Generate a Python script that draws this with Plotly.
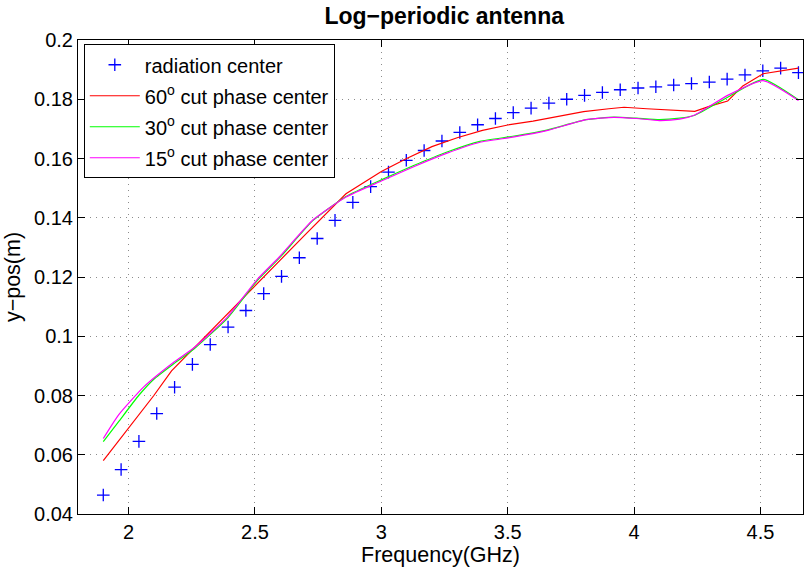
import plotly.graph_objects as go

# ---- data ----
rad_freq = [1.9000, 1.9705, 2.0410, 2.1115, 2.1821, 2.2526, 2.3231, 2.3936, 2.4641, 2.5346,
            2.6051, 2.6756, 2.7462, 2.8167, 2.8872, 2.9577, 3.0282, 3.0987, 3.1692, 3.2397,
            3.3103, 3.3808, 3.4513, 3.5218, 3.5923, 3.6628, 3.7333, 3.8038, 3.8744, 3.9449,
            4.0154, 4.0859, 4.1564, 4.2269, 4.2974, 4.3679, 4.4385, 4.5090, 4.5795, 4.6500]
rad_y = [0.0464, 0.0550, 0.0645, 0.0739, 0.0828, 0.0905, 0.0972, 0.1031, 0.1087, 0.1144,
         0.1202, 0.1265, 0.1330, 0.1391, 0.1452, 0.1505, 0.1554, 0.1594, 0.1627, 0.1659,
         0.1688, 0.1714, 0.1735, 0.1755, 0.1770, 0.1787, 0.1800, 0.1813, 0.1823, 0.1832,
         0.1838, 0.1842, 0.1848, 0.1853, 0.1858, 0.1868, 0.1882, 0.1896, 0.1905, 0.1890]

red_freq = [1.9, 2.0, 2.1, 2.17, 2.3, 2.4, 2.5, 2.6, 2.7, 2.86, 3.0, 3.1, 3.2, 3.3, 3.4,
            3.5, 3.6, 3.7, 3.8, 3.9, 3.96, 4.05, 4.18, 4.24, 4.3, 4.37, 4.43, 4.51, 4.65]
red_y = [0.0580, 0.0690, 0.0800, 0.0883, 0.0995, 0.1082, 0.1170, 0.1257, 0.1344, 0.1481,
         0.1556, 0.1600, 0.1640, 0.1670, 0.1695, 0.1713, 0.1726, 0.1741, 0.1758, 0.1768,
         0.1773, 0.1768, 0.1762, 0.1759, 0.1777, 0.1794, 0.1845, 0.1886, 0.1905]

green_freq = [1.9, 1.96, 2.04, 2.1, 2.18, 2.26, 2.39, 2.51, 2.6, 2.73, 2.86, 3.0, 3.13,
              3.26, 3.39, 3.52, 3.65, 3.81, 3.92, 4.01, 4.1, 4.18, 4.24, 4.37, 4.51, 4.65]
green_y = [0.0644, 0.0711, 0.0800, 0.0855, 0.0908, 0.0958, 0.1060, 0.1189, 0.1267, 0.1391,
           0.1472, 0.1528, 0.1577, 0.1622, 0.1658, 0.1675, 0.1695, 0.1731, 0.1740, 0.1736,
           0.1731, 0.1736, 0.1746, 0.1807, 0.1867, 0.1798]

magenta_freq = [1.9, 1.96, 2.06, 2.18, 2.26, 2.39, 2.51, 2.6, 2.73, 2.86, 3.0, 3.13,
                3.26, 3.39, 3.52, 3.65, 3.81, 3.92, 4.01, 4.1, 4.18, 4.24, 4.37, 4.51, 4.65]
magenta_y = [0.0655, 0.0734, 0.0829, 0.0913, 0.0962, 0.1064, 0.1193, 0.1271, 0.1393, 0.1470,
             0.1524, 0.1573, 0.1618, 0.1655, 0.1672, 0.1693, 0.1731, 0.1739, 0.1735, 0.1728,
             0.1733, 0.1747, 0.1813, 0.1863, 0.1796]

x_ticks = [2, 2.5, 3, 3.5, 4, 4.5]
x_ticktext = ["2", "2.5", "3", "3.5", "4", "4.5"]
y_ticks = [0.04, 0.06, 0.08, 0.10, 0.12, 0.14, 0.16, 0.18, 0.20]
y_ticktext = ["0.04", "0.06", "0.08", "0.1", "0.12", "0.14", "0.16", "0.18", "0.2"]

FONT = "Liberation Sans, Arial, Helvetica, sans-serif"

fig = go.Figure()
fig.add_trace(go.Scatter(
    x=rad_freq, y=rad_y, mode="markers", name="radiation center", legendgroup="a",
    marker=dict(symbol="cross-thin", size=9, color="#0000ff",
                line=dict(color="#0000ff", width=1.3))))
fig.add_trace(go.Scatter(
    x=red_freq, y=red_y, mode="lines", name="60<sup>o</sup> cut phase center", legendgroup="b",
    line=dict(color="#ff0000", width=1.2)))
fig.add_trace(go.Scatter(
    x=green_freq, y=green_y, mode="lines", name="30<sup>o</sup> cut phase center", legendgroup="c",
    line=dict(color="#00ff00", width=1.2, shape="spline", smoothing=0.5)))
fig.add_trace(go.Scatter(
    x=magenta_freq, y=magenta_y, mode="lines", name="15<sup>o</sup> cut phase center", legendgroup="d",
    line=dict(color="#ff00ff", width=1.2, shape="spline", smoothing=0.5)))

axis_common = dict(
    showline=True, linecolor="black", linewidth=1, mirror="ticks",
    ticks="inside", ticklen=7, tickcolor="black", tickwidth=1,
    showgrid=True, gridcolor="#8c8c8c", gridwidth=1, griddash="1px,5px",
    zeroline=False, tickfont=dict(family=FONT, size=20, color="black"),
)

fig.update_layout(
    width=804, height=568,
    margin=dict(l=78, r=1, t=40, b=54),
    paper_bgcolor="white", plot_bgcolor="white",
    font=dict(family=FONT, size=20, color="black"),
    title=dict(text="<b>Log\u2212periodic antenna</b>", x=0.5525, xanchor="center",
               y=0.972, yanchor="middle", font=dict(family=FONT, size=23, color="black")),
    xaxis=dict(range=[1.8, 4.668], tickvals=x_ticks, ticktext=x_ticktext,
               title=dict(text="Frequency(GHz)", standoff=2,
                          font=dict(family=FONT, size=21.5, color="black")),
               **axis_common),
    yaxis=dict(range=[0.04, 0.2], tickvals=y_ticks, ticktext=y_ticktext,
               title=dict(text="y\u2212pos(m)", standoff=7,
                          font=dict(family=FONT, size=21.5, color="black")),
               **axis_common),
    legend=dict(x=0.008, y=0.991, xanchor="left", yanchor="top",
                bgcolor="white", bordercolor="black", borderwidth=1,
                font=dict(family=FONT, size=20, color="black"),
                itemwidth=50, tracegroupgap=2, traceorder="grouped"),
    showlegend=True,
)

fig.write_html("out.html")
